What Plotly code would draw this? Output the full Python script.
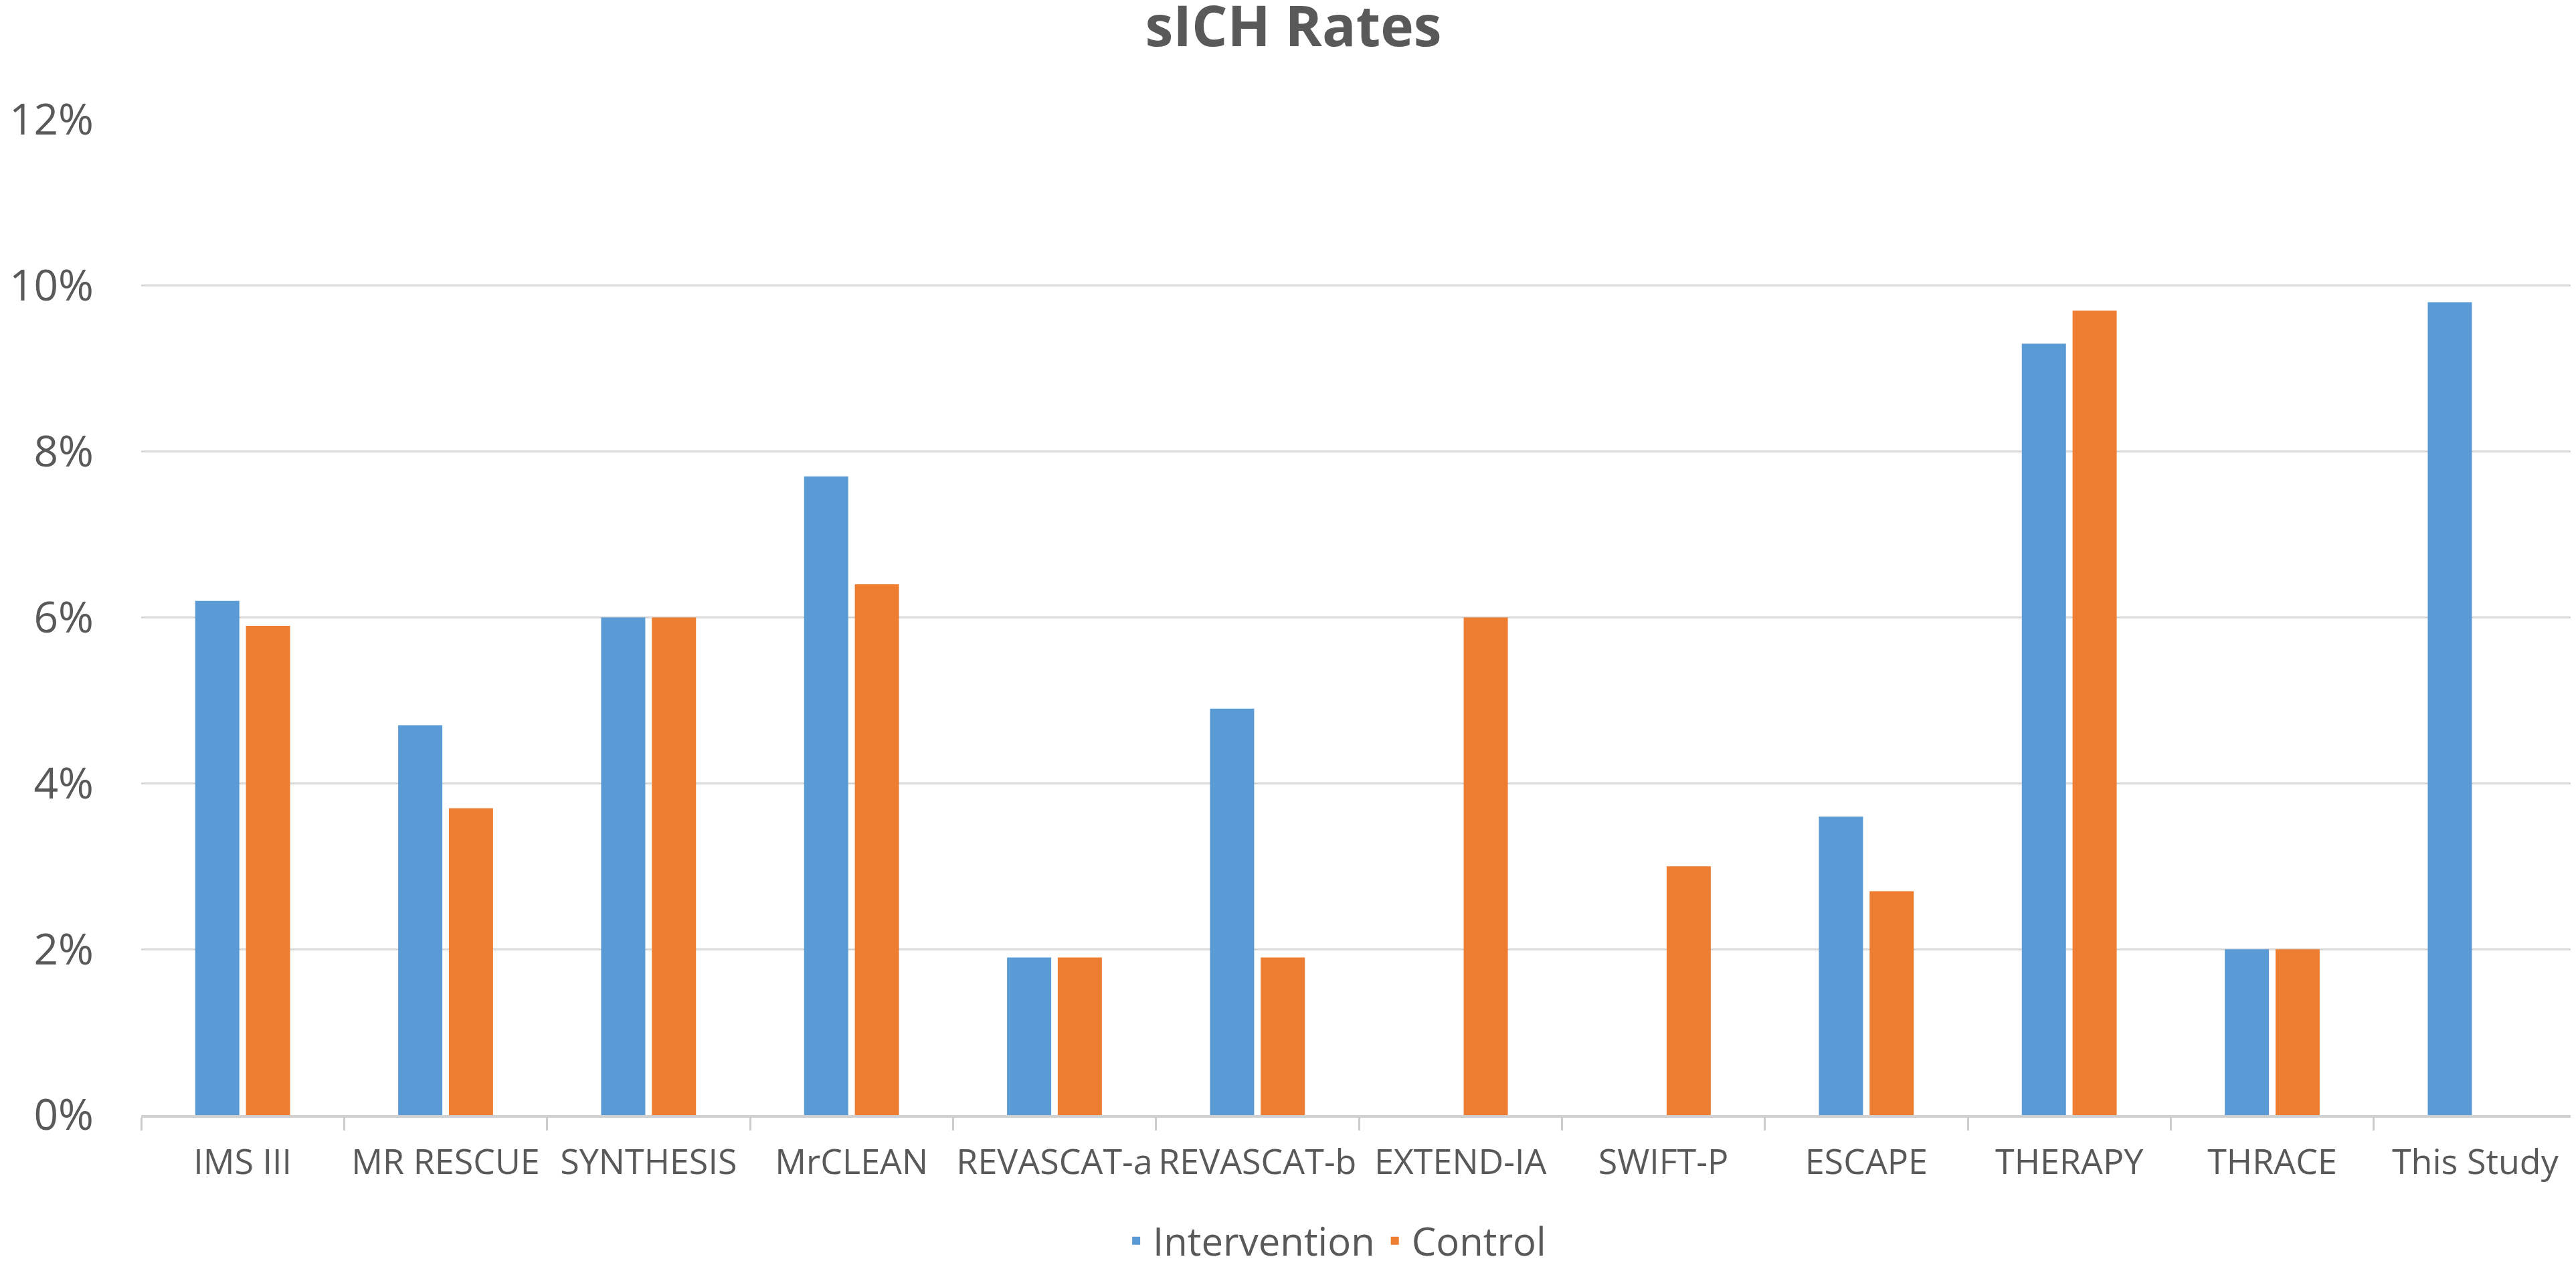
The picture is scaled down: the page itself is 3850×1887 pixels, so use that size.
import plotly.graph_objects as go

categories = ["IMS III", "MR RESCUE", "SYNTHESIS", "MrCLEAN", "REVASCAT-a", "REVASCAT-b",
              "EXTEND-IA", "SWIFT-P", "ESCAPE", "THERAPY", "THRACE", "This Study"]
intervention = [0.062, 0.047, 0.060, 0.077, 0.019, 0.049, None, None, 0.036, 0.093, 0.020, 0.098]
control = [0.059, 0.037, 0.060, 0.064, 0.019, 0.019, 0.060, 0.030, 0.027, 0.097, 0.020, None]
y_ticks = [0, 0.02, 0.04, 0.06, 0.08, 0.10, 0.12]

TEXT = "#595959"
FONT = "Open Sans"

fig = go.Figure()
fig.add_trace(go.Bar(name="Intervention", x=categories, y=intervention,
                     marker=dict(color="#5B9BD5", line=dict(width=0))))
fig.add_trace(go.Bar(name="Control", x=categories, y=control,
                     marker=dict(color="#ED7D31", line=dict(width=0))))

fig.update_layout(
    width=3850, height=1887,
    paper_bgcolor="white", plot_bgcolor="white",
    margin=dict(l=203, r=7, t=171, b=229, autoexpand=False),
    barmode="group", bargap=0.5, bargroupgap=0.13,
    title=dict(text="<b>sICH Rates</b>", x=0.5, xanchor="center", xref="container",
               y=1, yanchor="top", yref="container", pad=dict(t=2, b=0, l=0, r=0),
               font=dict(family=FONT, size=84, color=TEXT)),
    font=dict(family=FONT, color=TEXT),
    legend=dict(orientation="h", x=0.49, xanchor="center", xref="paper",
                y=-188 / 1487, yanchor="middle",
                font=dict(family=FONT, size=58, color=TEXT),
                itemwidth=40, tracegroupgap=0),
    showlegend=True,
)

fig.update_xaxes(
    type="category", showgrid=False, tickangle=0, automargin=False,
    showline=True, linecolor="#d0d0d0", linewidth=4,
    ticks="outside", tickson="boundaries", ticklen=19, tickwidth=3, tickcolor="#cccccc",
    tickfont=dict(family=FONT, size=52, color=TEXT),
    ticklabelstandoff=22,
)
fig.update_yaxes(
    range=[0, 0.12], tickvals=y_ticks, tickformat=".0%", automargin=False,
    showgrid=True, gridcolor="#d9d9d9", gridwidth=3,
    zeroline=False, showline=False, ticks="",
    tickfont=dict(family=FONT, size=64, color=TEXT),
    ticklabelstandoff=70,
)

fig.write_html("out.html")
